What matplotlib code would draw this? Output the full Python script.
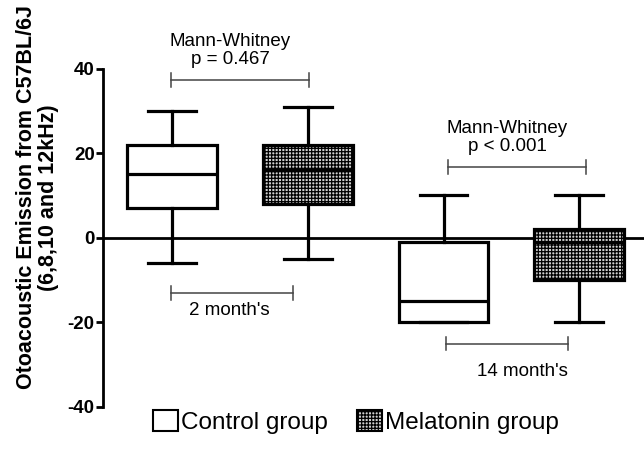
import matplotlib
matplotlib.use("Agg")
import matplotlib.pyplot as plt
from matplotlib.patches import Patch

plt.rcParams['font.family'] = ['Liberation Sans', 'DejaVu Sans']
plt.rcParams['hatch.linewidth'] = 0.9

# box statistics (control 2m, melatonin 2m, control 14m, melatonin 14m)
groups = ["Control 2m", "Melatonin 2m", "Control 14m", "Melatonin 14m"]
whislo = [-6, -5, -20, -20]
q1 = [7, 8, -20, -10]
med = [15, 16, -15, -1]
q3 = [22, 22, -1, 2]
whishi = [30, 31, 10, 10]
positions = [1, 2, 3, 4]
melatonin = [False, True, False, True]

# comparison brackets: (x start, x end, y, label lines)
brackets = [
    (0.99, 2.01, 37.3, "Mann-Whitney\np = 0.467"),
    (3.03, 4.05, 16.8, "Mann-Whitney\np < 0.001"),
]
# age brackets: (x start, x end, y, label, label x, label y)
age_brackets = [
    (0.99, 1.89, -13.1, "2 month's", 1.42, -17.3),
    (3.02, 3.92, -25.1, "14 month's", 3.58, -31.7),
]

fig = plt.figure(figsize=(6.44, 4.49), dpi=100)
ax = fig.add_axes([0.160, 0.085, 0.840, 0.915])

stats = []
for i in range(len(groups)):
    stats.append({"whislo": whislo[i], "q1": q1[i], "med": med[i],
                  "q3": q3[i], "whishi": whishi[i], "fliers": [], "label": groups[i]})

lw = 2.3
bp = ax.bxp(stats, positions=positions, widths=0.66, capwidths=0.35,
            patch_artist=True, showfliers=False,
            boxprops=dict(linewidth=lw, edgecolor="black", facecolor="white"),
            whiskerprops=dict(linewidth=lw, color="black"),
            capprops=dict(linewidth=lw, color="black"),
            medianprops=dict(linewidth=lw, color="black"))
for box, mel in zip(bp["boxes"], melatonin):
    if mel:
        box.set_facecolor("#d0d0d0")
        box.set_hatch("+++++")
for m in bp["medians"]:
    m.set_zorder(4)

ax.axhline(0, color="black", linewidth=2, zorder=1)

for x0, x1, y, txt in brackets:
    ax.plot([x0, x1], [y, y], color="#444444", lw=1.1)
    ax.plot([x0, x0], [y - 1.6, y + 1.6], color="#444444", lw=1.1)
    ax.plot([x1, x1], [y - 1.6, y + 1.6], color="#444444", lw=1.1)
    ax.text((x0 + x1) / 2 - 0.07, y + 2.8, txt, ha="center", va="bottom",
            fontsize=13.5, linespacing=1.1)

for x0, x1, y, txt, tx, ty in age_brackets:
    ax.plot([x0, x1], [y, y], color="#444444", lw=1.1)
    ax.plot([x0, x0], [y - 1.6, y + 1.6], color="#444444", lw=1.1)
    ax.plot([x1, x1], [y - 1.6, y + 1.6], color="#444444", lw=1.1)
    ax.text(tx, ty, txt, ha="center", va="center", fontsize=13.5)

ax.set_xlim(0.49, 4.478)
ax.set_ylim(-41, 56.3)
ax.set_yticks([-40, -20, 0, 20, 40])
ax.set_yticklabels(["-40", "-20", "0", "20", "40"], fontweight="bold", fontsize=13.5)
ax.tick_params(axis="y", length=5, width=2, pad=1)
ax.set_xticks([])
for s in ["top", "right", "bottom"]:
    ax.spines[s].set_visible(False)
ax.spines["left"].set_linewidth(2)
ax.spines["left"].set_bounds(-40, 40)
ax.patch.set_alpha(0)

fig.text(0.058, 0.56, "Otoacoustic Emission from C57BL/6J\n(6,8,10 and 12kHz)",
         rotation=90, ha="center", va="center", fontsize=15.5, fontweight="bold",
         multialignment="center", linespacing=1.1)

handles = [Patch(facecolor="white", edgecolor="black", linewidth=1.5),
           Patch(facecolor="#d0d0d0", edgecolor="black", linewidth=1.5, hatch="+++++")]
fig.legend(handles, ["Control group", "Melatonin group"], loc="lower center",
           bbox_to_anchor=(0.553, -0.015), ncol=2, frameon=False, fontsize=17.5,
           handlelength=1.0, handleheight=1.0, handletextpad=0.15, columnspacing=1.2)

fig.savefig("out.png", dpi=100)
